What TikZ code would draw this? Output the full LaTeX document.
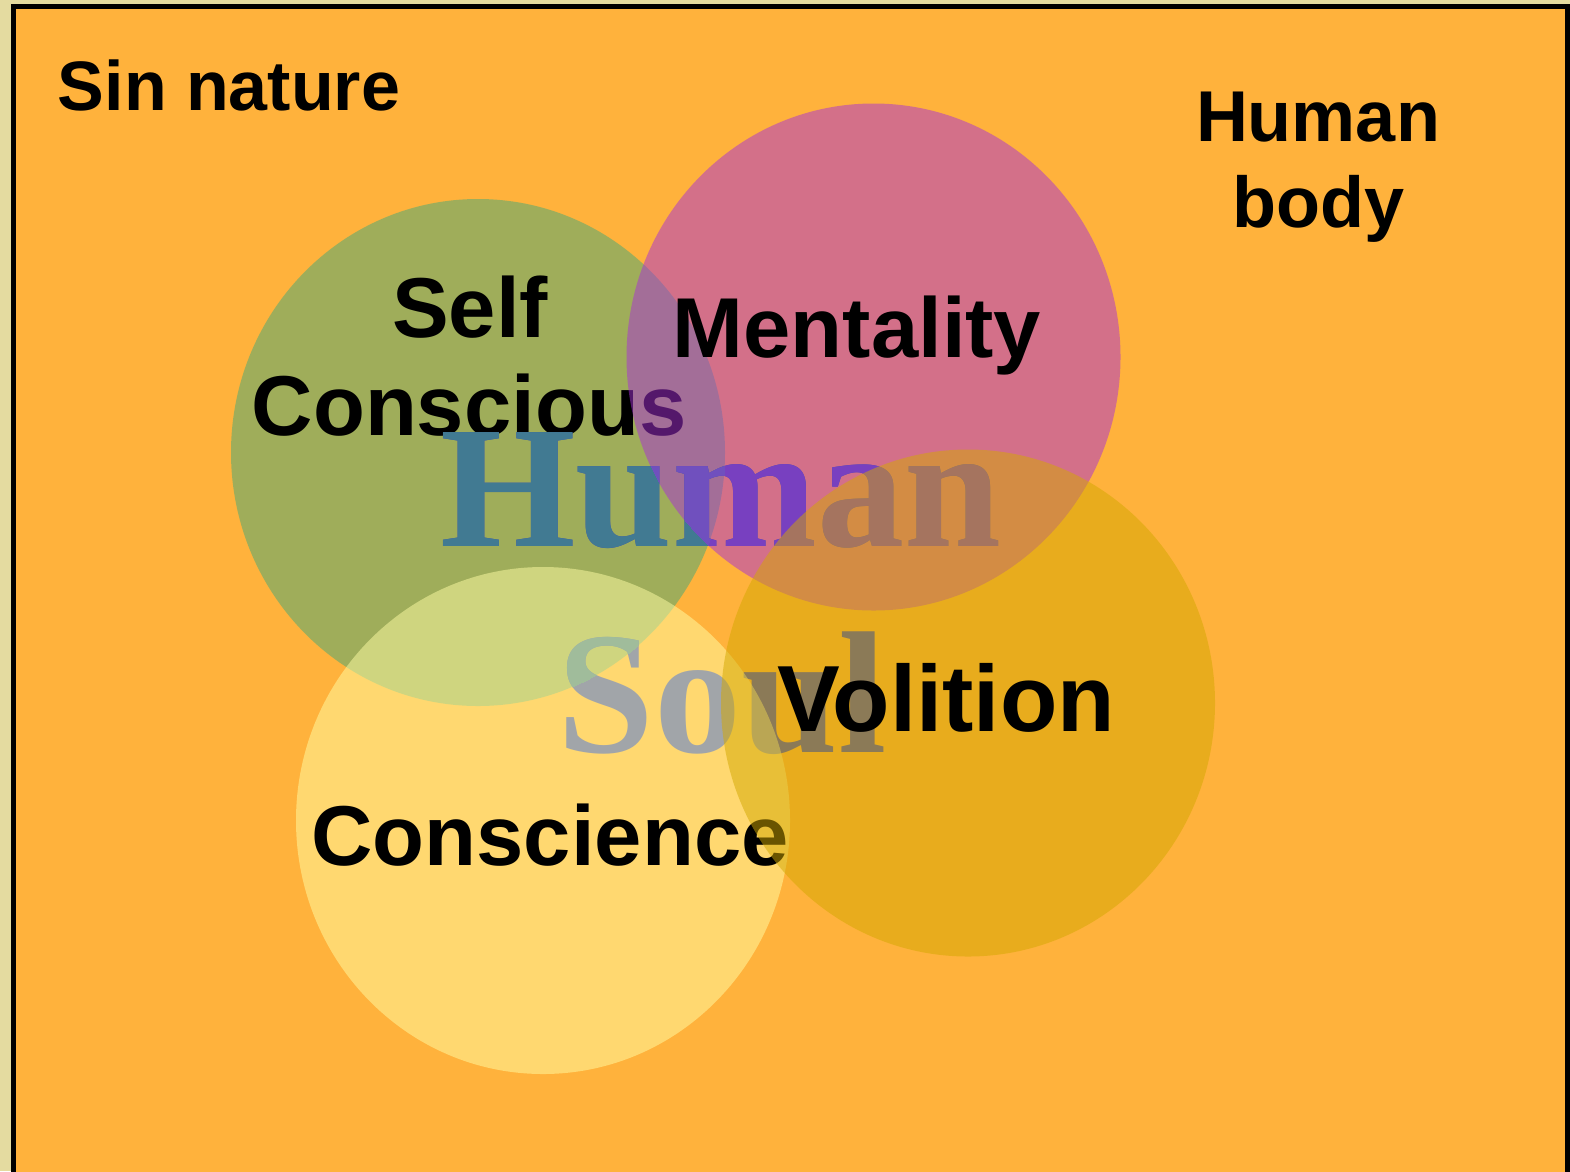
\documentclass[tikz,border=0pt]{standalone}
\usepackage{fontspec}
\setmainfont{Liberation Sans}
\newfontfamily\soulfont{Liberation Serif}
\definecolor{beige}{RGB}{228,219,160}
\definecolor{orangebg}{RGB}{255,178,60}
\definecolor{cgreen}{RGB}{65,170,120}
\definecolor{cpink}{RGB}{168,48,215}
\definecolor{cyellow}{RGB}{255,254,164}
\definecolor{cgold}{RGB}{211,168,0}
\definecolor{soulbase}{RGB}{68,76,176}
\definecolor{soulgreen}{RGB}{65,122,146}
\definecolor{soulpink}{RGB}{120,64,192}
\definecolor{soulgp}{RGB}{112,80,190}
\tikzset{
  lbl/.style={inner sep=0pt, anchor=base, align=center, text=black,
    font=\bfseries\fontsize{#1}{#1}\selectfont},
  bigsoul/.style={inner sep=0pt, anchor=base,
    font=\soulfont\bfseries\fontsize{174}{174}\selectfont},
  bubble/.style={fill=#1, fill opacity=0.5, draw=none},
}
\newcommand{\soulwords}[2]{%
  \node[bigsoul, text=#2] (human#1) at (721,546) {Human};
  \node[bigsoul, text=#2] (soul#1) at (722,752) {Soul};
}
\begin{document}
\begin{tikzpicture}[x=1pt,y=-1pt]
\useasboundingbox (0,0) rectangle (1570,1171);
\fill[beige] (0,0) rectangle (1570,1171);
\begin{scope}
\clip (0,0) rectangle (1570,1171);
\draw[line width=5pt, fill=orangebg] (13.3,6.7) rectangle (1567.5,1190);
\end{scope}
\coordinate (cg) at (478,452.5);
\coordinate (cp) at (873.5,357);
\coordinate (cy) at (543,820.5);
\coordinate (cd) at (968,703);
% text on the background
\node[lbl=70] (sin) at (229,110) {Sin nature};
\node[lbl=72] (body1) at (1318,141) {Human};
\node[lbl=72] (body2) at (1318,227) {body};
% green circle
\fill[bubble=cgreen] (cg) ellipse [x radius=247pt, y radius=253.5pt];
\node[lbl=85] (self1) at (470,337) {Self};
\node[lbl=85] (self2) at (469,435) {Conscious};
% pink circle
\fill[bubble=cpink] (cp) ellipse [x radius=247pt, y radius=253.5pt];
\node[lbl=85] (mental) at (857,357) {Mentality};
% Human Soul words
\soulwords{A}{soulbase}
\begin{scope}
\clip (cg) ellipse [x radius=247pt, y radius=253.5pt];
\soulwords{B}{soulgreen}
\end{scope}
\begin{scope}
\clip (cp) ellipse [x radius=247pt, y radius=253.5pt];
\soulwords{C}{soulpink}
\end{scope}
\begin{scope}
\clip (cp) ellipse [x radius=247pt, y radius=253.5pt];
\clip (cg) ellipse [x radius=247pt, y radius=253.5pt];
\soulwords{D}{soulgp}
\end{scope}
% yellow circle
\fill[bubble=cyellow] (cy) ellipse [x radius=247pt, y radius=253.5pt];
\node[lbl=85] (consc) at (550,865) {Conscience};
% gold circle
\fill[bubble=cgold] (cd) ellipse [x radius=247pt, y radius=253.5pt];
\node[lbl=94] (vol) at (946,731) {Volition};
\end{tikzpicture}
\end{document}
